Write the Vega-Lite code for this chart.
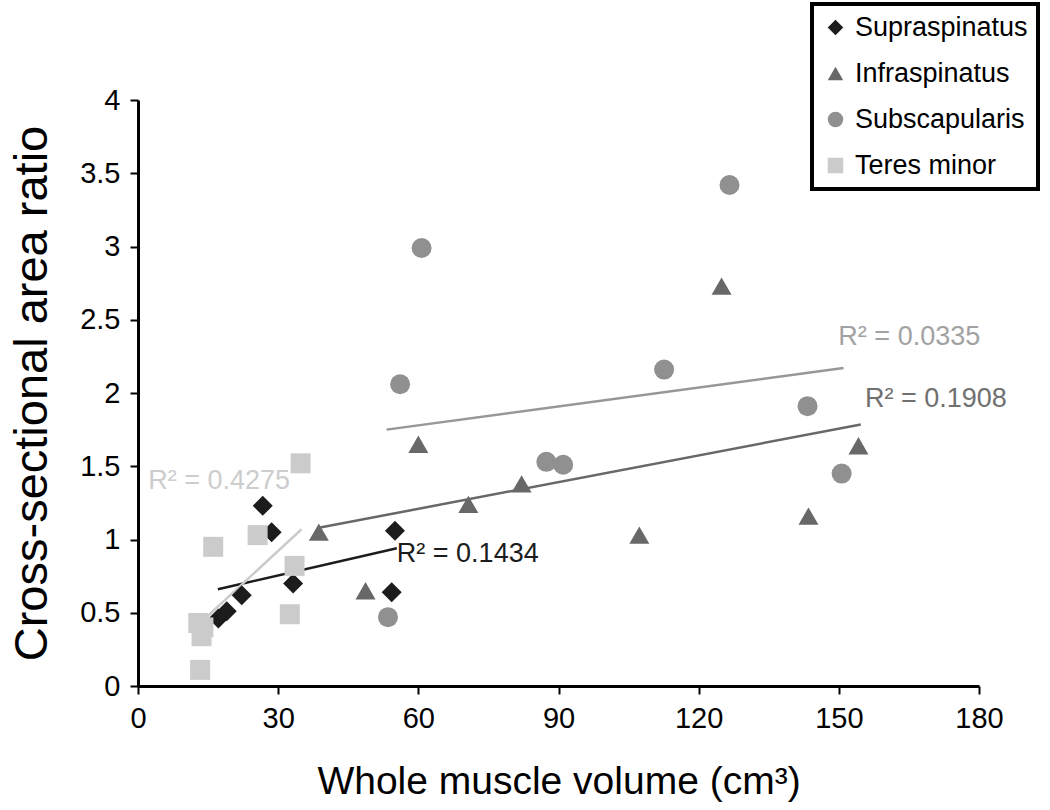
{
  "$schema": "https://vega.github.io/schema/vega-lite/v6.json",
  "width": 841,
  "height": 586,
  "autosize": {"type": "none"},
  "padding": {"left": 138, "top": 100, "right": 71, "bottom": 124},
  "background": "white",
  "config": {
    "view": {"stroke": null},
    "font": "Liberation Sans",
    "legend": {"strokeWidth": 4},
    "axis": {
      "grid": false,
      "domainColor": "black",
      "domainWidth": 3,
      "tickColor": "black",
      "tickWidth": 2,
      "tickSize": 8,
      "labelColor": "black",
      "titleColor": "black",
      "labelFont": "Liberation Sans",
      "titleFont": "Liberation Sans",
      "titleFontWeight": "normal"
    }
  },
  "datasets": {
    "points": [
      {"muscle": "Supraspinatus", "volume": 26.7, "ratio": 1.23},
      {"muscle": "Supraspinatus", "volume": 28.6, "ratio": 1.05},
      {"muscle": "Supraspinatus", "volume": 55.0, "ratio": 1.06},
      {"muscle": "Supraspinatus", "volume": 33.2, "ratio": 0.70},
      {"muscle": "Supraspinatus", "volume": 54.3, "ratio": 0.64},
      {"muscle": "Supraspinatus", "volume": 22.2, "ratio": 0.62},
      {"muscle": "Supraspinatus", "volume": 19.0, "ratio": 0.51},
      {"muscle": "Supraspinatus", "volume": 17.2, "ratio": 0.46},
      {"muscle": "Infraspinatus", "volume": 38.7, "ratio": 1.05},
      {"muscle": "Infraspinatus", "volume": 48.7, "ratio": 0.65},
      {"muscle": "Infraspinatus", "volume": 60.0, "ratio": 1.65},
      {"muscle": "Infraspinatus", "volume": 70.7, "ratio": 1.24},
      {"muscle": "Infraspinatus", "volume": 82.1, "ratio": 1.38},
      {"muscle": "Infraspinatus", "volume": 107.3, "ratio": 1.03},
      {"muscle": "Infraspinatus", "volume": 124.9, "ratio": 2.73},
      {"muscle": "Infraspinatus", "volume": 143.5, "ratio": 1.16},
      {"muscle": "Infraspinatus", "volume": 154.2, "ratio": 1.64},
      {"muscle": "Subscapularis", "volume": 60.7, "ratio": 2.99},
      {"muscle": "Subscapularis", "volume": 56.1, "ratio": 2.06},
      {"muscle": "Subscapularis", "volume": 87.4, "ratio": 1.53},
      {"muscle": "Subscapularis", "volume": 91.0, "ratio": 1.51},
      {"muscle": "Subscapularis", "volume": 112.6, "ratio": 2.16},
      {"muscle": "Subscapularis", "volume": 126.6, "ratio": 3.42},
      {"muscle": "Subscapularis", "volume": 143.3, "ratio": 1.91},
      {"muscle": "Subscapularis", "volume": 150.6, "ratio": 1.45},
      {"muscle": "Subscapularis", "volume": 53.5, "ratio": 0.47},
      {"muscle": "Teres minor", "volume": 34.8, "ratio": 1.52},
      {"muscle": "Teres minor", "volume": 16.1, "ratio": 0.95},
      {"muscle": "Teres minor", "volume": 25.6, "ratio": 1.03},
      {"muscle": "Teres minor", "volume": 33.5, "ratio": 0.82},
      {"muscle": "Teres minor", "volume": 32.5, "ratio": 0.49},
      {"muscle": "Teres minor", "volume": 12.9, "ratio": 0.43},
      {"muscle": "Teres minor", "volume": 14.0, "ratio": 0.40},
      {"muscle": "Teres minor", "volume": 13.6, "ratio": 0.34},
      {"muscle": "Teres minor", "volume": 13.3, "ratio": 0.11}
    ],
    "fits": [
      {"muscle": "Supraspinatus", "volume": 17.1, "ratio": 0.66},
      {"muscle": "Supraspinatus", "volume": 55.4, "ratio": 0.94},
      {"muscle": "Infraspinatus", "volume": 38.7, "ratio": 1.08},
      {"muscle": "Infraspinatus", "volume": 154.7, "ratio": 1.785},
      {"muscle": "Subscapularis", "volume": 53.2, "ratio": 1.75},
      {"muscle": "Subscapularis", "volume": 151.0, "ratio": 2.17},
      {"muscle": "Teres minor", "volume": 13.3, "ratio": 0.43},
      {"muscle": "Teres minor", "volume": 35.0, "ratio": 1.07}
    ],
    "labels": [
      {"muscle": "Teres minor", "volume": 2.2, "ratio": 1.40, "label": "R² = 0.4275"},
      {"muscle": "Supraspinatus", "volume": 55.4, "ratio": 0.90, "label": "R² = 0.1434"},
      {"muscle": "Subscapularis", "volume": 149.9, "ratio": 2.38, "label": "R² = 0.0335"},
      {"muscle": "Infraspinatus", "volume": 155.6, "ratio": 1.96, "label": "R² = 0.1908"}
    ]
  },
  "encoding": {
    "x": {
      "field": "volume",
      "type": "quantitative",
      "scale": {"domain": [0, 180], "nice": false, "zero": true},
      "axis": {
        "values": [0, 30, 60, 90, 120, 150, 180],
        "title": "Whole muscle volume (cm³)",
        "labelFontSize": 29,
        "titleFontSize": 39,
        "labelPadding": 10,
        "titlePadding": 29,
        "labelFlush": false
      }
    },
    "y": {
      "field": "ratio",
      "type": "quantitative",
      "scale": {"domain": [0, 4], "nice": false},
      "axis": {
        "values": [0, 0.5, 1, 1.5, 2, 2.5, 3, 3.5, 4],
        "format": "~g",
        "title": "Cross-sectional area ratio",
        "labelFontSize": 29,
        "titleFontSize": 47,
        "labelPadding": 10,
        "titlePadding": 23
      }
    }
  },
  "layer": [
    {
      "data": {"name": "fits"},
      "mark": {"type": "line", "strokeWidth": 2.5},
      "encoding": {
        "detail": {"field": "muscle"},
        "stroke": {
          "field": "muscle",
          "type": "nominal",
          "scale": {
            "domain": ["Teres minor", "Subscapularis", "Infraspinatus", "Supraspinatus"],
            "range": ["#cbcbcb", "#979797", "#686868", "#1c1c1c"]
          },
          "legend": null
        }
      }
    },
    {
      "data": {"name": "points"},
      "mark": {"type": "point", "filled": true, "opacity": 1, "size": 400},
      "encoding": {
        "color": {
          "field": "muscle",
          "type": "nominal",
          "scale": {
            "domain": ["Supraspinatus", "Infraspinatus", "Subscapularis", "Teres minor"],
            "range": ["#1c1c1c", "#686868", "#909090", "#cbcbcb"]
          },
          "legend": {
            "title": null,
            "orient": "none",
            "legendX": 674,
            "legendY": -96,
            "padding": 10,
            "strokeColor": "black",
            "fillColor": "white",
            "labelFontSize": 27,
            "labelColor": "black",
            "labelFont": "Liberation Sans",
            "labelLimit": 400,
            "symbolSize": 240,
            "rowPadding": 18,
            "labelOffset": 6
          }
        },
        "shape": {
          "field": "muscle",
          "type": "nominal",
          "scale": {
            "domain": ["Supraspinatus", "Infraspinatus", "Subscapularis", "Teres minor"],
            "range": ["diamond", "triangle-up", "circle", "square"]
          },
          "legend": {
            "title": null,
            "orient": "none",
            "legendX": 674,
            "legendY": -96,
            "padding": 10,
            "strokeColor": "black",
            "fillColor": "white",
            "labelFontSize": 27,
            "labelColor": "black",
            "labelFont": "Liberation Sans",
            "labelLimit": 400,
            "symbolSize": 240,
            "rowPadding": 18,
            "labelOffset": 6
          }
        }
      }
    },
    {
      "data": {"name": "labels"},
      "mark": {"type": "text", "align": "left", "baseline": "middle", "fontSize": 27, "font": "Liberation Sans"},
      "encoding": {
        "text": {"field": "label"},
        "fill": {
          "field": "muscle",
          "type": "nominal",
          "scale": {
            "domain": ["Teres minor", "Subscapularis", "Infraspinatus", "Supraspinatus"],
            "range": ["#cdcdcd", "#a2a2a2", "#707070", "#1c1c1c"]
          },
          "legend": null
        }
      }
    }
  ]
}
